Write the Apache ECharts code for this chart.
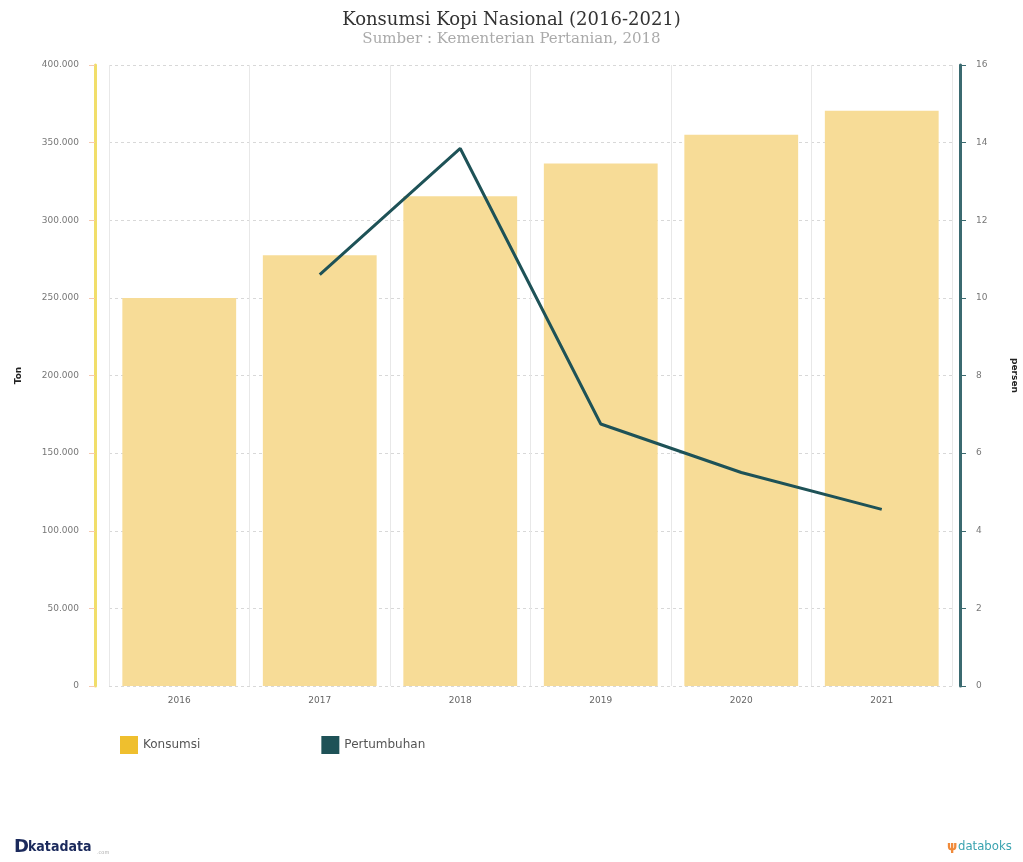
<!DOCTYPE html>
<html>
<head>
<meta charset="utf-8">
<script src="https://cdn.jsdelivr.net/npm/echarts@6/dist/echarts.min.js"></script>
<style>
html,body{margin:0;padding:0;background:#fff;overflow:hidden;}
#chart{width:1023px;height:862px;}
</style>
</head>
<body>
<div id="chart"></div>
<script>
const categories = ['2016', '2017', '2018', '2019', '2020', '2021'];
const konsumsi = [250000, 277500, 315500, 336500, 355000, 370500];
const pertumbuhan = [null, 10.6, 13.85, 6.75, 5.5, 4.55];
const leftTicks = { min: 0, max: 400000, interval: 50000 };
const rightTicks = { min: 0, max: 16, interval: 2 };

const chart = echarts.init(document.getElementById('chart'));
const fmt = v => String(v).replace(/\B(?=(\d{3})+(?!\d))/g, '.');

chart.setOption({
  backgroundColor: '#fff',
  animation: false,
  title: {
    text: 'Konsumsi Kopi Nasional (2016-2021)',
    subtext: 'Sumber : Kementerian Pertanian, 2018',
    left: 'center',
    top: 6,
    itemGap: 3,
    textStyle: { fontFamily: 'DejaVu Serif', fontSize: 18, fontWeight: 'normal', color: '#333' },
    subtextStyle: { fontFamily: 'DejaVu Serif', fontSize: 15, color: '#aaa' }
  },
  grid: { left: 109, right: 71, top: 65, bottom: 176, containLabel: false, outerBoundsMode: 'none' },
  legend: {
    left: 115,
    top: 731,
    itemWidth: 18,
    itemHeight: 18,
    itemGap: 121,
    icon: 'rect',
    textStyle: { fontFamily: 'DejaVu Sans', fontSize: 12, color: '#555' },
    data: [
      { name: 'Konsumsi', itemStyle: { color: '#efbf2e', opacity: 1 } },
      { name: 'Pertumbuhan', itemStyle: { color: '#1e5257' } }
    ]
  },
  xAxis: {
    type: 'category',
    data: categories,
    axisLine: { show: false },
    axisTick: { show: false },
    axisLabel: { fontFamily: 'DejaVu Sans', fontSize: 9, color: '#666', margin: 10 },
    splitLine: { show: true, lineStyle: { color: '#e8e8e8', width: 1 } }
  },
  yAxis: [
    {
      type: 'value',
      min: leftTicks.min, max: leftTicks.max, interval: leftTicks.interval,
      offset: 14,
      name: 'Ton',
      nameLocation: 'middle',
      nameGap: 72,
      nameTextStyle: { fontFamily: 'DejaVu Sans', fontSize: 9, fontWeight: 'bold', color: '#222' },
      axisLine: { show: true, lineStyle: { color: '#f1de6a', width: 3 } },
      axisTick: { show: true, length: 6, lineStyle: { color: '#f6c9b0' } },
      axisLabel: { fontFamily: 'DejaVu Sans', fontSize: 9, color: '#777', margin: 16, formatter: fmt },
      splitLine: { show: true, lineStyle: { color: '#d8d8d8', type: [3, 3] } }
    },
    {
      type: 'value',
      min: rightTicks.min, max: rightTicks.max, interval: rightTicks.interval,
      offset: 8,
      position: 'right',
      name: 'persen',
      nameLocation: 'middle',
      nameGap: 50,
      nameRotate: -90,
      nameTextStyle: { fontFamily: 'DejaVu Sans', fontSize: 9, fontWeight: 'bold', color: '#222' },
      axisLine: { show: true, lineStyle: { color: '#3b6a70', width: 3 } },
      axisTick: { show: true, length: 6, lineStyle: { color: '#3b6a70' } },
      axisLabel: { fontFamily: 'DejaVu Sans', fontSize: 9, color: '#777', margin: 16 },
      splitLine: { show: false }
    }
  ],
  series: [
    {
      name: 'Konsumsi',
      type: 'bar',
      data: konsumsi,
      yAxisIndex: 0,
      barCategoryGap: '19%',
      itemStyle: { color: '#f7dc97' }
    },
    {
      name: 'Pertumbuhan',
      type: 'line',
      data: pertumbuhan,
      yAxisIndex: 1,
      symbol: 'none',
      lineStyle: { color: '#1e5257', width: 3 },
      itemStyle: { color: '#1e5257' }
    }
  ],
  graphic: [
    { type: 'text', left: 14, top: 838, style: { text: 'D', font: 'bold 18px "DejaVu Sans"', fill: '#1b2a5c' } },
    { type: 'text', left: 28, top: 840, style: { text: 'katadata', font: 'bold 14px "DejaVu Sans Condensed"', fill: '#1b2a5c' } },
    { type: 'text', left: 97, top: 850, style: { text: '.com', font: '5px "DejaVu Sans"', fill: '#aaa' } },
    { type: 'text', left: 947, top: 840, style: { text: 'ψ', font: 'bold 13px "DejaVu Sans"', fill: '#f08a3a' } },
    { type: 'text', left: 958, top: 840, style: { text: 'databoks', font: '13px "DejaVu Sans Condensed"', fill: '#3aa3b0' } }
  ]
});
</script>
</body>
</html>
